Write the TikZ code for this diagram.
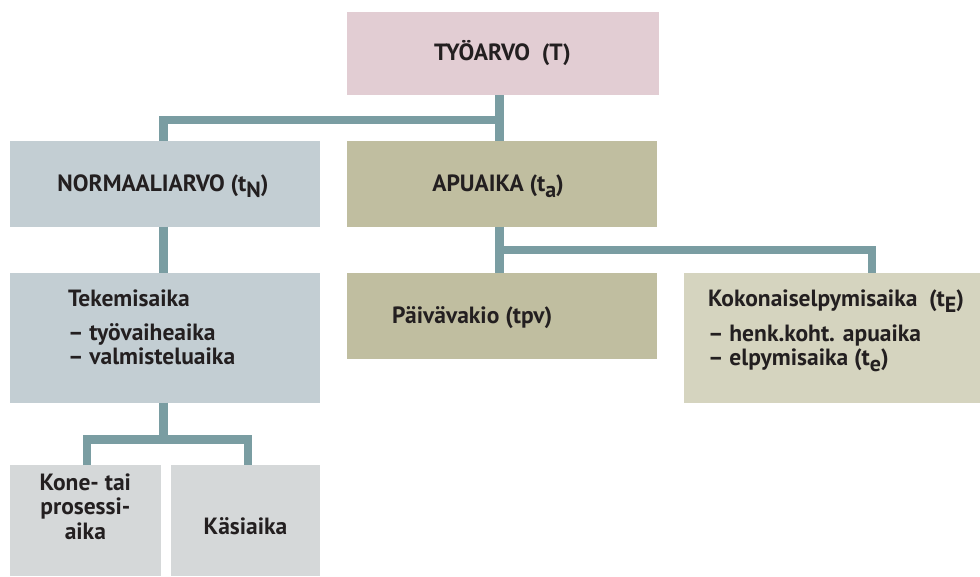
\documentclass[tikz,border=0pt]{standalone}
\usepackage{fontspec}
\setmainfont{PT Sans}
\usetikzlibrary{calc}
\definecolor{pinkc}{HTML}{E2CDD3}
\definecolor{bluec}{HTML}{C3CED3}
\definecolor{olivec}{HTML}{C0BEA0}
\definecolor{lolivec}{HTML}{D5D4BF}
\definecolor{greyc}{HTML}{D5D8D9}
\definecolor{connc}{HTML}{7A9DA2}
\definecolor{textc}{HTML}{231F20}
\newcommand{\lowsub}[1]{\raisebox{-5.5pt}{\fontsize{22}{22}\selectfont #1}}
\begin{document}
\begin{tikzpicture}[x=1pt,y=-1pt,
  box/.style={rectangle, draw=none, inner sep=0pt, outer sep=0pt},
  conn/.style={draw=connc, line width=8.4pt, line join=miter},
  txt/.style={inner sep=0pt, outer sep=0pt, font=\fontsize{23.5}{23.5}\selectfont\bfseries, text=textc}]
\useasboundingbox (0,0) rectangle (980,576);
% boxes
\node[box, fill=pinkc, minimum width=312pt, minimum height=83pt] (T) at (502.5,53.5) {};
\node[box, fill=bluec, minimum width=310pt, minimum height=85.7pt] (N) at (165,183.85) {};
\node[box, fill=olivec, minimum width=310pt, minimum height=85.7pt] (A) at (502,183.85) {};
\node[box, fill=bluec, minimum width=310pt, minimum height=129.5pt] (Tek) at (165,337.75) {};
\node[box, fill=olivec, minimum width=310pt, minimum height=86pt] (P) at (502,316) {};
\node[box, fill=lolivec, minimum width=296pt, minimum height=129.5pt] (K) at (832,337.75) {};
\node[box, fill=greyc, minimum width=150.7pt, minimum height=111pt] (Kone) at (85.35,520.5) {};
\node[box, fill=greyc, minimum width=149pt, minimum height=111pt] (Kasi) at (245.5,520.5) {};
% connector guide coordinates
\coordinate (xL) at (163.5,0);
\coordinate (xM) at (499.5,0);
\coordinate (xR) at (872,0);
\coordinate (xa) at (87,0);
\coordinate (xb) at (247.7,0);
\coordinate (j1) at (499.5,120);
\coordinate (j2) at (499.5,250);
\coordinate (j3) at (163.5,439.5);
% connectors
\draw[conn] (T.south -| xM) -- (A.north -| xM);
\draw[conn] (j1) -| (N.north -| xL);
\draw[conn] (A.south -| xM) -- (P.north -| xM);
\draw[conn] (j2) -| (K.north -| xR);
\draw[conn] (N.south -| xL) -- (Tek.north -| xL);
\draw[conn] (Tek.south -| xL) -- (j3);
\draw[conn] (Kone.north -| xa) |- (j3) -| (Kasi.north -| xb);
% texts
\node[txt, anchor=base] (tT) at (502.5,60) {TYÖARVO\enspace(T)};
\node[txt, anchor=base] (tN) at (163,191.7) {NORMAALIARVO (t\lowsub{N})};
\node[txt, anchor=base west] (tA) at (432.3,191.7) {APUAIKA (t\lowsub{a})};
\node[txt, anchor=base west] (tP) at (392,323) {Päivävakio (tpv)};
\node[txt, anchor=base west] (tTek1) at (68,306.7) {Tekemisaika};
\node[txt, anchor=base west] (tTek2) at (68,340.5) {– työvaiheaika};
\node[txt, anchor=base west] (tTek3) at (68,364.5) {– valmisteluaika};
\node[txt, anchor=base west] (tK1) at (708,306.7) {Kokonaiselpymisaika\enspace(t\lowsub{E})};
\node[txt, anchor=base west] (tK2) at (708,341.5) {– henk.koht. apuaika};
\node[txt, anchor=base west] (tK3) at (708,365.5) {– elpymisaika (t\lowsub{e})};
\node[txt, anchor=base] (tKone1) at (85.35,490) {Kone- tai};
\node[txt, anchor=base] (tKone2) at (85.35,514.5) {prosessi-};
\node[txt, anchor=base] (tKone3) at (85.35,539.3) {aika};
\node[txt, anchor=base] (tKasi) at (245.5,534) {Käsiaika};
\end{tikzpicture}
\end{document}
